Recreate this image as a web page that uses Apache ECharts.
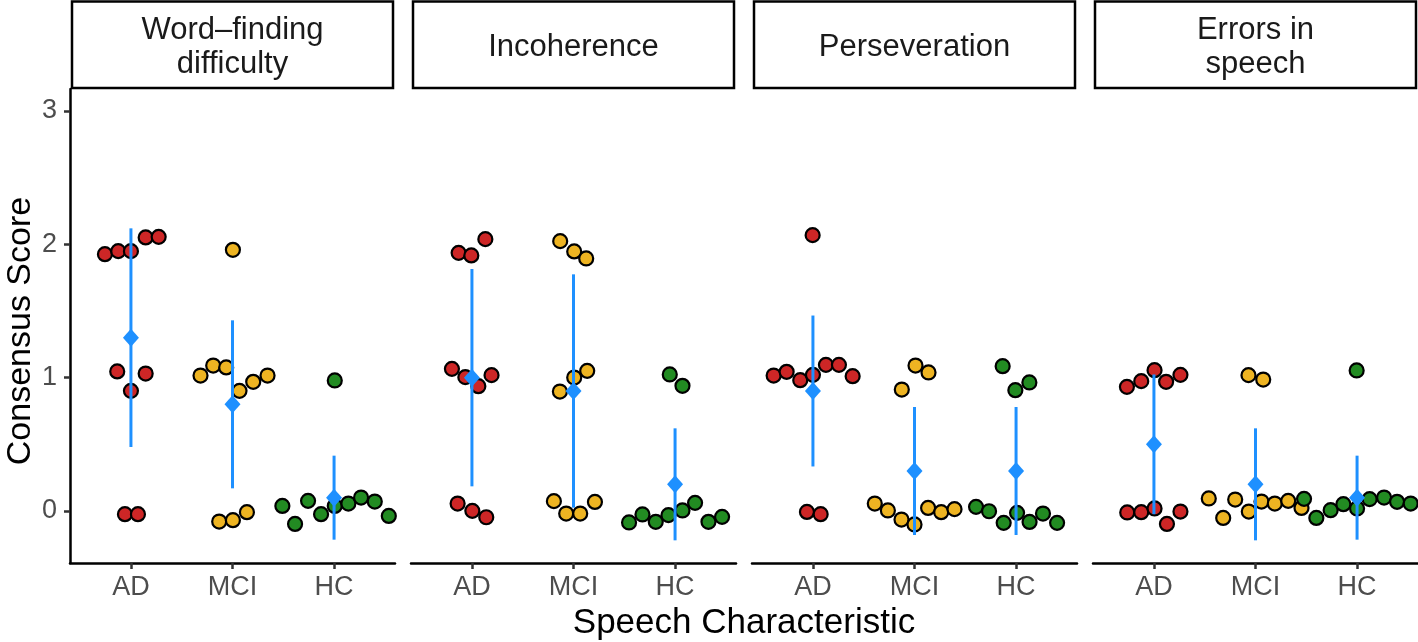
<!DOCTYPE html>
<html>
<head>
<meta charset="utf-8">
<script src="https://cdn.jsdelivr.net/npm/echarts@6/dist/echarts.min.js"></script>
<style>html,body{margin:0;padding:0;background:#fff}#c{width:1418px;height:642px}</style>
</head>
<body>
<div id="c"></div>
<script>
// ---- Data ----
const panelTitles = ["Word\u2013finding\ndifficulty", "Incoherence", "Perseveration", "Errors in\nspeech"];
const groups = ["AD", "MCI", "HC"];
const yTicks = [0, 1, 2, 3];
const xTicks = [1, 2, 3];

// jittered points [x, y] (x = group index + jitter)
const wordFindingAD = [[0.744,1.926],[0.875,1.949],[1.0,1.949],[1.145,2.052],[1.273,2.056],[0.865,1.047],[1.145,1.031],[1.0,0.901],[0.941,-0.024],[1.069,-0.024]];
const wordFindingMCI = [[2.004,1.959],[1.685,1.016],[1.81,1.091],[1.938,1.077],[2.069,0.901],[2.204,0.969],[2.345,1.016],[1.869,-0.079],[2.004,-0.069],[2.142,-0.009]];
const wordFindingHC = [[3.007,0.979],[2.491,0.038],[2.616,-0.097],[2.744,0.076],[2.872,-0.024],[3.007,0.038],[3.141,0.056],[3.266,0.101],[3.401,0.071],[3.539,-0.037]];

const incoherenceAD = [[0.869,1.936],[0.994,1.917],[1.132,2.039],[0.803,1.066],[0.935,1.004],[1.063,0.936],[1.193,1.019],[0.859,0.056],[1.004,0.001],[1.141,-0.047]];
const incoherenceMCI = [[1.869,2.024],[2.007,1.947],[2.125,1.894],[2.135,1.051],[2.007,1.001],[1.866,0.896],[1.807,0.074],[1.928,-0.019],[2.066,-0.019],[2.211,0.068]];
const incoherenceHC = [[2.948,1.024],[3.073,0.939],[2.547,-0.086],[2.679,-0.026],[2.81,-0.081],[2.935,-0.031],[3.073,0.004],[3.197,0.061],[3.329,-0.081],[3.463,-0.044]];

const perseverationAD = [[0.997,2.069],[0.613,1.016],[0.741,1.044],[0.875,0.981],[1.0,1.021],[1.128,1.096],[1.256,1.096],[1.391,1.011],[0.941,-0.007],[1.076,-0.024]];
const perseverationMCI = [[2.01,1.091],[2.138,1.039],[1.875,0.911],[1.609,0.056],[1.738,0.004],[1.872,-0.064],[2.0,-0.101],[2.134,0.023],[2.263,-0.009],[2.394,0.014]];
const perseverationHC = [[2.868,1.086],[3.131,0.964],[2.993,0.906],[2.606,0.031],[2.734,-0.002],[2.878,-0.089],[3.01,-0.014],[3.133,-0.082],[3.265,-0.019],[3.404,-0.089]];

const errorsAD = [[0.734,0.931],[0.875,0.974],[1.006,1.056],[1.12,0.969],[1.261,1.021],[0.737,-0.011],[0.875,-0.009],[1.006,0.019],[1.128,-0.097],[1.261,-0.004]];
const errorsMCI = [[1.931,1.019],[2.076,0.986],[1.54,0.094],[1.682,-0.052],[1.8,0.086],[1.934,-0.004],[2.059,0.071],[2.19,0.056],[2.322,0.076],[2.453,0.023]];
const errorsHC = [[2.996,1.054],[2.478,0.091],[2.599,-0.052],[2.74,0.006],[2.865,0.051],[3.0,0.019],[3.124,0.089],[3.266,0.101],[3.394,0.069],[3.528,0.056]];

// group means and error-bar half widths per panel (AD, MCI, HC)
const meansWordFinding = [1.3, 0.8, 0.1];
const errWordFinding = [0.82, 0.63, 0.315];
const meansIncoherence = [1.0, 0.9, 0.2];
const errIncoherence = [0.815, 0.875, 0.42];
const meansPerseveration = [0.9, 0.3, 0.3];
const errPerseveration = [0.566, 0.48, 0.48];
const meansErrors = [0.5, 0.2, 0.1];
const errErrors = [0.524, 0.42, 0.315];

// ---- Build ----
const panelPoints = [
  [wordFindingAD, wordFindingMCI, wordFindingHC],
  [incoherenceAD, incoherenceMCI, incoherenceHC],
  [perseverationAD, perseverationMCI, perseverationHC],
  [errorsAD, errorsMCI, errorsHC]
];
const panelMeans = [meansWordFinding, meansIncoherence, meansPerseveration, meansErrors];
const panelErr = [errWordFinding, errIncoherence, errPerseveration, errErrors];
const groupColors = ['#CD2626', '#EEB422', '#228B22'];
const blue = '#1E90FF';
const FONT = '"Liberation Sans", Arial, Helvetica, sans-serif';

const plotTop = 89, plotHeight = 474, panelW = 325, gap = 16, firstLeft = 70;
const grids = [], xAxes = [], yAxes = [], series = [], graphics = [];

for (let p = 0; p < 4; p++) {
  const left = firstLeft + p * (panelW + gap);
  grids.push({ left: left, top: plotTop, width: panelW, height: plotHeight });
  xAxes.push({
    gridIndex: p, type: 'value', min: 0.4, max: 3.6,
    splitLine: { show: false },
    axisLine: { show: true, onZero: false, lineStyle: { color: '#000', width: 2.5 } },
    axisTick: { show: true, length: 6, customValues: xTicks, lineStyle: { color: '#333', width: 2.5 } },
    axisLabel: { customValues: xTicks, formatter: v => groups[Math.round(v) - 1], color: '#4D4D4D', fontSize: 27, fontFamily: FONT, margin: 11 }
  });
  yAxes.push({
    gridIndex: p, type: 'value', min: -0.39, max: 3.165,
    splitLine: { show: false },
    axisLine: { show: p === 0, onZero: false, lineStyle: { color: '#000', width: 2.5 } },
    axisTick: { show: p === 0, length: 6, customValues: yTicks, lineStyle: { color: '#333', width: 2.5 } },
    axisLabel: { show: p === 0, customValues: yTicks, color: '#4D4D4D', fontSize: 27, fontFamily: FONT, margin: 13 }
  });
  for (let g = 0; g < 3; g++) {
    series.push({
      type: 'scatter', xAxisIndex: p, yAxisIndex: p,
      data: panelPoints[p][g], symbol: 'circle', symbolSize: 14,
      itemStyle: { color: groupColors[g], borderColor: '#000', borderWidth: 2.2, opacity: 1 },
      emphasis: { disabled: true }, silent: true, z: 2
    });
  }
  const errData = panelMeans[p].map((m, g) => [g + 1, m - panelErr[p][g], m + panelErr[p][g]]);
  series.push({
    type: 'custom', xAxisIndex: p, yAxisIndex: p, data: errData, z: 3, silent: true,
    renderItem: (params, api) => {
      const a = api.coord([api.value(0), api.value(1)]);
      const b = api.coord([api.value(0), api.value(2)]);
      return { type: 'line', shape: { x1: a[0], y1: a[1], x2: b[0], y2: b[1] }, style: { stroke: blue, lineWidth: 3 } };
    }
  });
  series.push({
    type: 'scatter', xAxisIndex: p, yAxisIndex: p,
    data: panelMeans[p].map((m, g) => [g + 1, m]),
    symbol: 'diamond', symbolSize: [16, 18],
    itemStyle: { color: blue, opacity: 1 }, z: 4, silent: true
  });
  // strip
  graphics.push({
    type: 'rect', shape: { x: left + 2, y: 1.5, width: panelW - 4, height: 86.5 },
    style: { fill: '#fff', stroke: '#000', lineWidth: 2.5 }
  });
  graphics.push({
    type: 'text', x: left + panelW / 2, y: 47.5,
    style: { text: panelTitles[p], font: '31px ' + FONT, fill: '#1A1A1A', align: 'center', verticalAlign: 'middle', lineHeight: 34 }
  });
}
graphics.push({
  type: 'text', x: 744, y: 623,
  style: { text: 'Speech Characteristic', font: '35px ' + FONT, fill: '#000', align: 'center', verticalAlign: 'middle' }
});
graphics.push({
  type: 'text', x: 21, y: 331, rotation: Math.PI / 2,
  style: { text: 'Consensus Score', font: '34px ' + FONT, fill: '#000', align: 'center', verticalAlign: 'middle' }
});

const chart = echarts.init(document.getElementById('c'), null, { renderer: 'canvas' });
chart.setOption({
  animation: false,
  backgroundColor: '#fff',
  grid: grids, xAxis: xAxes, yAxis: yAxes, series: series,
  graphic: graphics
});
</script>
</body>
</html>
